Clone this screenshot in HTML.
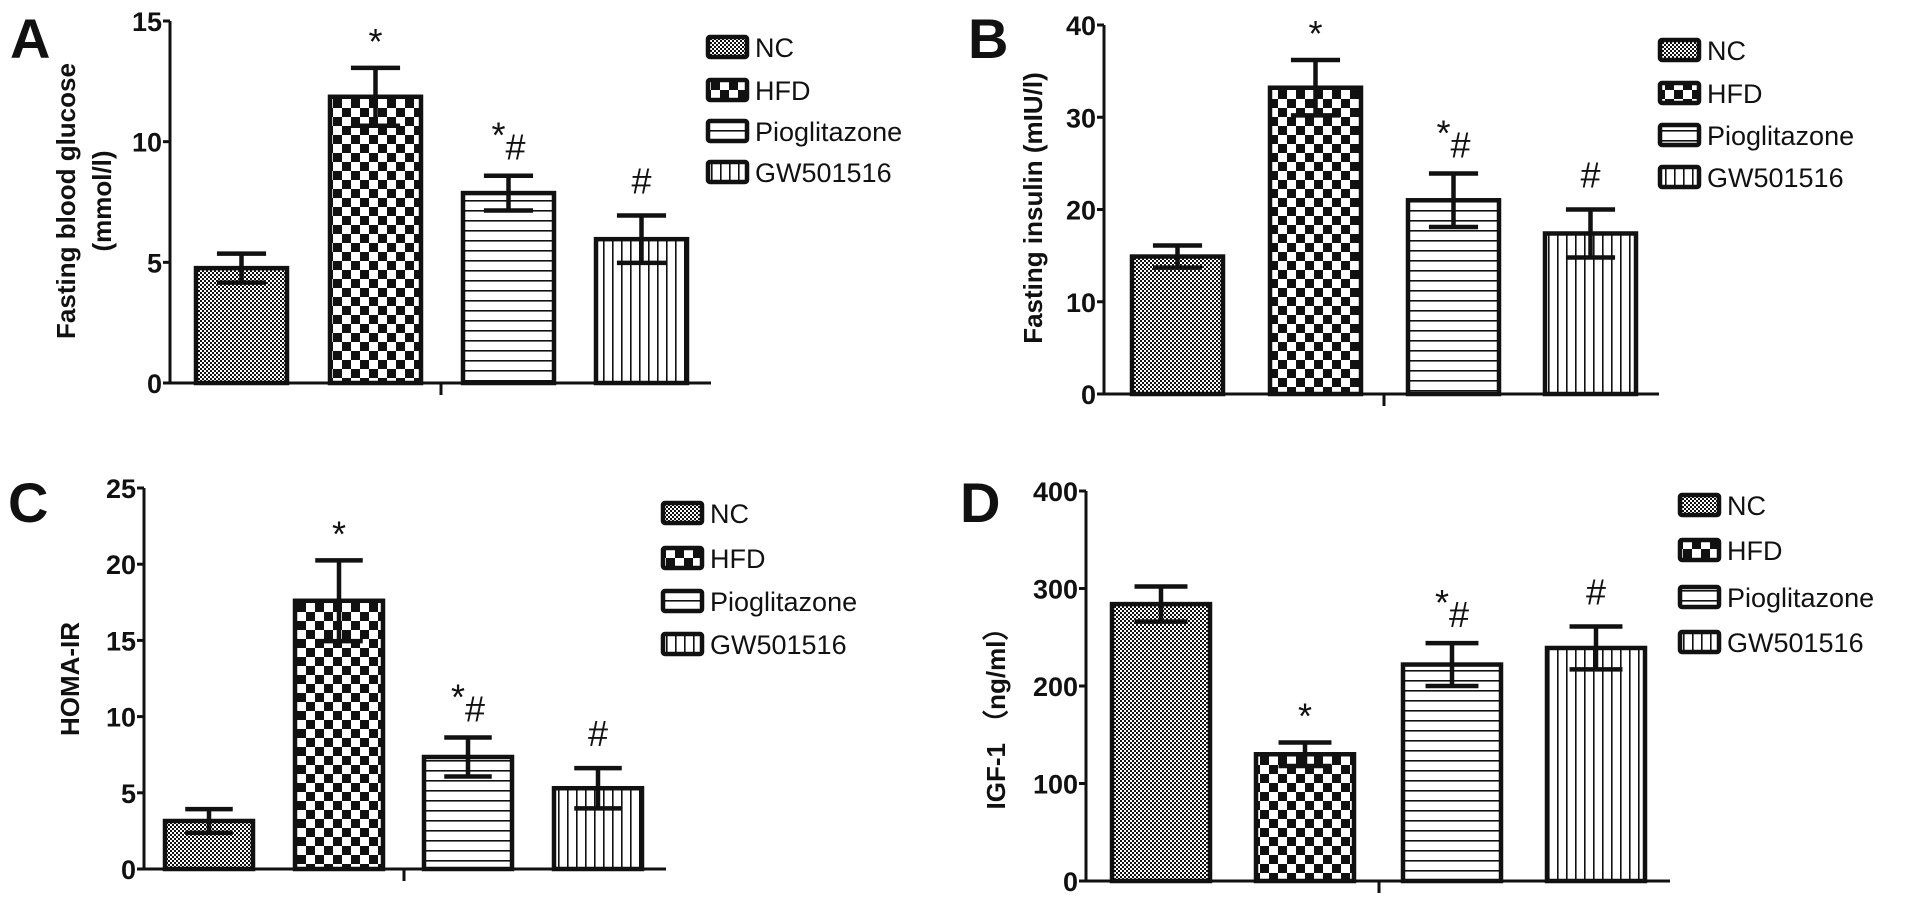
<!DOCTYPE html>
<html><head><meta charset="utf-8"><style>
html,body{margin:0;padding:0;background:#fff;}
svg{display:block;}
text{font-family:"Liberation Sans",sans-serif;fill:#111;}
.tick{font-weight:bold;font-size:27px;}
.ylab{font-weight:bold;font-size:26px;}
.leg{font-size:27px;}
.let{font-weight:bold;font-size:56px;}
.sig{font-size:36px;}
</style></head><body>
<svg id="fig" width="1913" height="906" viewBox="0 0 1913 906" xmlns="http://www.w3.org/2000/svg">
<defs>
<pattern id="p0" width="4" height="4" patternUnits="userSpaceOnUse"><rect width="4" height="4" fill="#fff"/><rect width="2" height="2" fill="#111"/><rect x="2" y="2" width="2" height="2" fill="#111"/></pattern>
<pattern id="p1" width="18" height="18" patternUnits="userSpaceOnUse"><rect width="18" height="18" fill="#fff"/><rect width="9" height="9" fill="#111"/><rect x="9" y="9" width="9" height="9" fill="#111"/></pattern>
<pattern id="p2" width="10" height="10" patternUnits="userSpaceOnUse"><rect width="10" height="10" fill="#fff"/><rect y="0" width="10" height="1.6" fill="#111"/></pattern>
<pattern id="p3" width="9" height="10" patternUnits="userSpaceOnUse"><rect width="9" height="10" fill="#fff"/><rect x="0" width="1.6" height="10" fill="#111"/></pattern>
</defs>
</svg>
<script>
const groups = ["NC","HFD","Pioglitazone","GW501516"];
const meansA = [4.76,11.86,7.87,5.96];
const errA = [0.6,1.2,0.72,0.98];
const sigA = ["","*","*#","#"];
const ticksA = [0,5,10,15];
const meansB = [14.9,33.2,21.0,17.4];
const errB = [1.2,3.0,2.9,2.6];
const sigB = ["","*","*#","#"];
const ticksB = [0,10,20,30,40];
const meansC = [3.15,17.6,7.35,5.3];
const errC = [0.78,2.65,1.28,1.32];
const sigC = ["","*","*#","#"];
const ticksC = [0,5,10,15,20,25];
const meansD = [284,130,222,239];
const errD = [18,12,22,22];
const sigD = ["","*","*#","#"];
const ticksD = [0,100,200,300,400];

const svg = document.getElementById('fig');
const NS = "http://www.w3.org/2000/svg";
function mk(tag, attrs, parent){
  const e = document.createElementNS(NS, tag);
  for (const k in attrs) e.setAttribute(k, attrs[k]);
  (parent||svg).appendChild(e);
  return e;
}
const panels = [
 {id:'a', letter:'A', lx:10, ly:58, ax:170, y0:383, yTop:21, max:15, xs:[196,330,463,596], bw:91, xEnd:711, midTick:441,
  means:meansA, err:errA, sig:sigA, ticks:ticksA, ylab:["Fasting blood glucose","(mmol/l)"], ylabX:[66,102], ylabY:201,
  legX:706, legY:[47,90,131,172]},
 {id:'b', letter:'B', lx:968, ly:58, ax:1104, y0:394, yTop:25, max:40, xs:[1132,1270,1408,1545], bw:91, xEnd:1659, midTick:1384,
  means:meansB, err:errB, sig:sigB, ticks:ticksB, ylab:["Fasting insulin (mIU/l)"], ylabX:[1033], ylabY:208,
  legX:1658, legY:[50,93,135,177]},
 {id:'c', letter:'C', lx:8, ly:522, ax:144, y0:869, yTop:488, max:25, xs:[165,295,424,554], bw:88, xEnd:666, midTick:404,
  means:meansC, err:errC, sig:sigC, ticks:ticksC, ylab:["HOMA-IR"], ylabX:[70], ylabY:679,
  legX:661, legY:[513,558,601,644]},
 {id:'d', letter:'D', lx:960, ly:522, ax:1086, y0:881, yTop:491, max:400, xs:[1112,1256,1403,1547], bw:98, xEnd:1670, midTick:1379,
  means:meansD, err:errD, sig:sigD, ticks:ticksD, ylab:["IGF-1 （ng/ml）"], ylabX:[996], ylabY:712,
  legX:1678, legY:[505,550,597,642]}
];
panels.forEach(p=>{
  const g = mk('g',{});
  
  
  const y = v => p.y0 - (v/p.max)*(p.y0-p.yTop);
  const L = mk('text',{x:p.lx,y:p.ly,class:'let'},g); L.textContent=p.letter;
  
  
  p.means.forEach((m,i)=>{
    const x = p.xs[i], top = y(m);
    const r = mk('rect',{x:x, y:top, width:p.bw, height:p.y0-top, fill:'url(#p'+i+')', stroke:'#111','stroke-width':4.5},g);
    
    
    const cx = x+p.bw/2, hi=y(m+p.err[i]), lo=y(m-p.err[i]), cw=p.bw*0.27;
    const eb = mk('path',{d:`M${cx} ${hi}V${lo}M${cx-cw} ${hi}H${cx+cw}M${cx-cw} ${lo}H${cx+cw}`, stroke:'#111','stroke-width':4.5,fill:'none'},g);
    
    
    const s = p.sig[i];
    if (s){
      const t = mk('text',{x:cx, y:hi-22, 'text-anchor':'middle', class:'sig'},g);
      
      
      if (s==="*#"){
        const a=mk('tspan',{dy:-6},t); a.textContent="*";
        const b=mk('tspan',{dy:12},t); b.textContent="#";
      } else if (s==="*"){ t.setAttribute('y', hi-14); t.textContent=s; }
      else t.textContent=s;
    }
  });
  const ya = mk('path',{d:`M${p.ax} ${p.yTop}V${p.y0}`,stroke:'#111','stroke-width':3},g);
  
  
  const xa = mk('path',{d:`M${p.ax-6} ${p.y0}H${p.xEnd}M${p.midTick} ${p.y0}V${p.y0+12}`,stroke:'#111','stroke-width':3},g);
  
  
  p.ticks.forEach(tv=>{
    const ty=y(tv);
    mk('path',{d:`M${p.ax-7} ${ty}H${p.ax}`,stroke:'#111','stroke-width':3},g);
    const t=mk('text',{x:p.ax-8,y:ty+10,'text-anchor':'end',class:'tick'},g);
    t.textContent=tv;
    
    
  });
  p.ylab.forEach((line,k)=>{
    const t=mk('text',{x:0,y:0,'text-anchor':'middle',class:'ylab',transform:`translate(${p.ylabX[k]+9},${p.ylabY}) rotate(-90)`},g);
    t.textContent=line;
    
    
  });
  groups.forEach((gn,i)=>{
    const lg = mk('g',{},g);
    
    
    mk('rect',{x:p.legX+2,y:p.legY[i]-10,width:39,height:20,rx:2,fill:'url(#p'+i+')',stroke:'#111','stroke-width':4.5},lg);
    const t=mk('text',{x:p.legX+49,y:p.legY[i]+10,class:'leg'},lg);
    t.textContent=gn;
  });
});
</script>
</body></html>
